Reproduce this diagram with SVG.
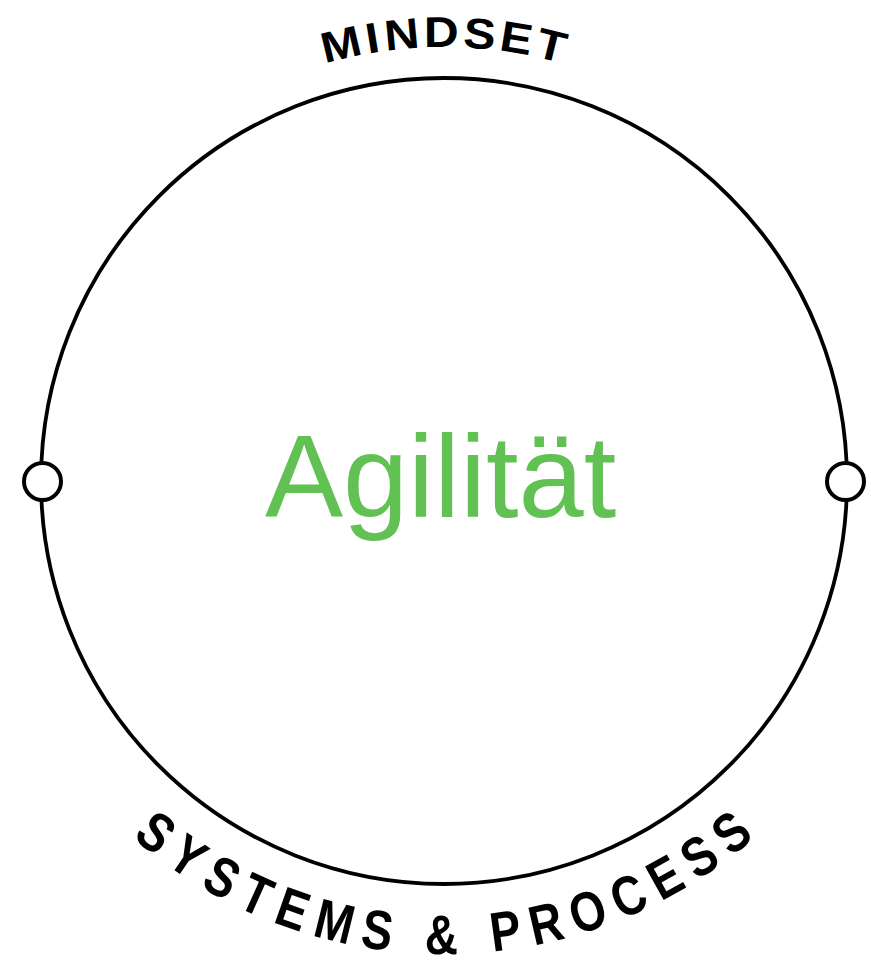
<svg xmlns="http://www.w3.org/2000/svg" width="871" height="960" viewBox="0 0 871 960">
<style>
.ring{fill:none;stroke:#000;stroke-width:3.8}
.port{fill:#fff;stroke:#000;stroke-width:4}
.top{font-family:"Liberation Sans",Arial,sans-serif;font-weight:bold;font-size:43px;fill:#000;text-anchor:middle}
.bot{font-family:"Liberation Sans",Arial,sans-serif;font-weight:bold;font-size:46px;fill:#000;text-anchor:middle}
.center{font-family:"Liberation Sans",Arial,sans-serif;font-size:117px;fill:#61c153}
</style>
<rect width="871" height="960" fill="#fff"/>
<g id="ring">
<circle class="ring" cx="444" cy="481" r="403"/>
</g>
<g id="ports">
<circle id="port-left" class="port" cx="42.5" cy="481.5" r="18.5"/>
<circle id="port-right" class="port" cx="845.5" cy="481.5" r="18.5"/>
</g>
<g id="agilitaet">
<text class="center" x="265" y="517">Agilität</text>
</g>
<g id="mindset" class="top">
<text transform="translate(344.2,58.6) rotate(-13.3) scale(1.12,1)">M</text>
<text transform="translate(374.6,52.6) rotate(-9.2) scale(1.12,1)">I</text>
<text transform="translate(403.0,49.0) rotate(-5.42) scale(1.12,1)">N</text>
<text transform="translate(441.3,47.0) rotate(-0.36) scale(1.12,1)">D</text>
<text transform="translate(478.4,48.4) rotate(4.55) scale(1.12,1)">S</text>
<text transform="translate(514.1,52.7) rotate(9.3) scale(1.12,1)">E</text>
<text transform="translate(548.1,59.7) rotate(13.88) scale(1.12,1)">T</text>
</g>
<g id="systems-process" class="bot">
<text transform="translate(143.8,847.2) rotate(39.25) scale(1,1.21)">S</text>
<text transform="translate(177.2,872.2) rotate(34.2) scale(1,1.21)">Y</text>
<text transform="translate(212.8,894.1) rotate(29.16) scale(1,1.21)">S</text>
<text transform="translate(248.9,912.2) rotate(24.28) scale(1,1.21)">T</text>
<text transform="translate(286.5,927.2) rotate(19.39) scale(1,1.21)">E</text>
<text transform="translate(330.0,940.2) rotate(13.89) scale(1,1.21)">M</text>
<text transform="translate(374.7,948.9) rotate(8.39) scale(1,1.21)">S</text>
<text transform="translate(441.4,954.0) rotate(0.31) scale(1,1.21)">&amp;</text>
<text transform="translate(508.0,949.6) rotate(-7.77) scale(1,1.21)">P</text>
<text transform="translate(550.1,942.0) rotate(-12.97) scale(1,1.21)">R</text>
<text transform="translate(593.8,929.7) rotate(-18.47) scale(1,1.21)">O</text>
<text transform="translate(636.2,913.3) rotate(-23.97) scale(1,1.21)">C</text>
<text transform="translate(674.4,894.1) rotate(-29.16) scale(1,1.21)">E</text>
<text transform="translate(709.9,872.2) rotate(-34.2) scale(1,1.21)">S</text>
<text transform="translate(743.3,847.2) rotate(-39.25) scale(1,1.21)">S</text>
</g>
</svg>
